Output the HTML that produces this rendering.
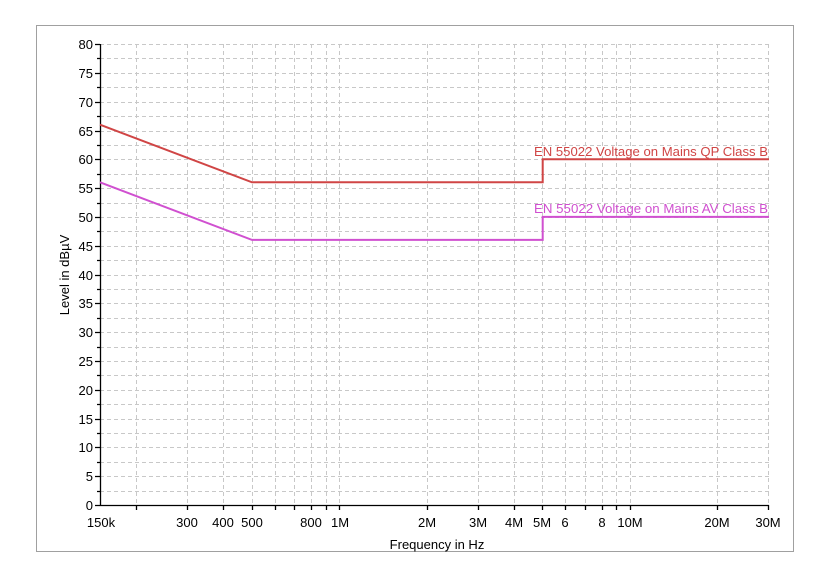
<!DOCTYPE html><html><head><style>body{margin:0;background:#fff}svg{display:block}text{font-family:"Liberation Sans",Arial,sans-serif;font-size:13px;fill:#000}</style></head><body>
<svg width="831" height="579" viewBox="0 0 831 579">
<rect x="36.5" y="25.5" width="757" height="526" fill="#fff" stroke="#a0a0a0"/>
<g stroke="#c8c8c8" stroke-dasharray="4,3" stroke-width="1" fill="none">
<path d="M136.5 44V505M187.5 44V505M223.5 44V505M252.5 44V505M275.5 44V505M294.5 44V505M311.5 44V505M326.5 44V505M339.5 44V505M427.5 44V505M478.5 44V505M514.5 44V505M542.5 44V505M565.5 44V505M585.5 44V505M602.5 44V505M616.5 44V505M630.5 44V505M717.5 44V505M768.5 44V505"/>
<path d="M100 44.5H769M100 58.5H769M100 73.5H769M100 87.5H769M100 102.5H769M100 116.5H769M100 131.5H769M100 145.5H769M100 159.5H769M100 174.5H769M100 188.5H769M100 203.5H769M100 217.5H769M100 231.5H769M100 246.5H769M100 260.5H769M100 275.5H769M100 289.5H769M100 303.5H769M100 318.5H769M100 332.5H769M100 347.5H769M100 361.5H769M100 375.5H769M100 390.5H769M100 404.5H769M100 419.5H769M100 433.5H769M100 447.5H769M100 462.5H769M100 476.5H769M100 491.5H769"/>
</g>
<g stroke="#000" stroke-width="1.3" fill="none">
<path d="M100.5 44V505.5H769"/>
<path d="M95 44.5H100M95 73.5H100M95 102.5H100M95 131.5H100M95 159.5H100M95 188.5H100M95 217.5H100M95 246.5H100M95 275.5H100M95 303.5H100M95 332.5H100M95 361.5H100M95 390.5H100M95 419.5H100M95 447.5H100M95 476.5H100M95 505.5H100"/>
<path d="M97 58.5H100M97 87.5H100M97 116.5H100M97 145.5H100M97 174.5H100M97 203.5H100M97 231.5H100M97 260.5H100M97 289.5H100M97 318.5H100M97 347.5H100M97 375.5H100M97 404.5H100M97 433.5H100M97 462.5H100M97 491.5H100"/>
<path d="M136.5 505V510M187.5 505V510M223.5 505V510M252.5 505V510M275.5 505V510M294.5 505V510M311.5 505V510M326.5 505V510M339.5 505V510M427.5 505V510M478.5 505V510M514.5 505V510M542.5 505V510M565.5 505V510M585.5 505V510M602.5 505V510M616.5 505V510M630.5 505V510M717.5 505V510M768.5 505V510"/>
</g>
<g text-anchor="end">
<text x="93" y="49">80</text><text x="93" y="78">75</text><text x="93" y="107">70</text><text x="93" y="136">65</text><text x="93" y="164">60</text><text x="93" y="193">55</text><text x="93" y="222">50</text><text x="93" y="251">45</text><text x="93" y="280">40</text><text x="93" y="308">35</text><text x="93" y="337">30</text><text x="93" y="366">25</text><text x="93" y="395">20</text><text x="93" y="424">15</text><text x="93" y="452">10</text><text x="93" y="481">5</text><text x="93" y="510">0</text>
</g>
<g text-anchor="middle">
<text x="101" y="527">150k</text><text x="187" y="527">300</text><text x="223" y="527">400</text><text x="252" y="527">500</text><text x="311" y="527">800</text><text x="340" y="527">1M</text><text x="427" y="527">2M</text><text x="478" y="527">3M</text><text x="514" y="527">4M</text><text x="542" y="527">5M</text><text x="565" y="527">6</text><text x="602" y="527">8</text><text x="630" y="527">10M</text><text x="717" y="527">20M</text><text x="768" y="527">30M</text>
<text x="437" y="549" font-size="14">Frequency in Hz</text>
<text transform="translate(69,275) rotate(-90)" font-size="12">Level in dBµV</text>
</g>
<polyline points="100,124.7 252,182.3 542.7,182.3 542.7,159.2 769,159.2" fill="none" stroke="#d04545" stroke-width="2"/>
<polyline points="100,182.3 252,239.9 542.7,239.9 542.7,216.9 769,216.9" fill="none" stroke="#d050d0" stroke-width="2"/>
<text x="534" y="156" textLength="234" lengthAdjust="spacingAndGlyphs" style="fill:#d04545">EN 55022 Voltage on Mains QP Class B</text>
<text x="534" y="213" textLength="234" lengthAdjust="spacingAndGlyphs" style="fill:#d050d0">EN 55022 Voltage on Mains AV Class B</text>
</svg></body></html>
